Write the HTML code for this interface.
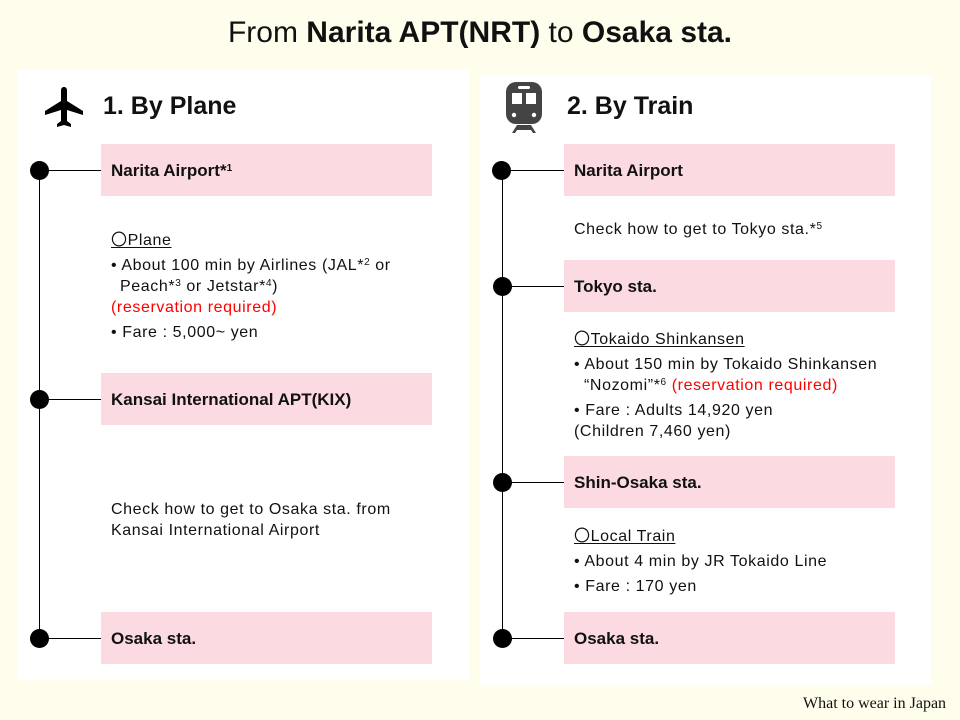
<!DOCTYPE html>
<html><head><meta charset="utf-8"><style>
body{margin:0;width:960px;height:720px;background:#fffdeb;position:relative;overflow:hidden;font-family:"Liberation Sans",sans-serif;color:#111}
.a{position:absolute;white-space:nowrap}
.panel{position:absolute;background:#fff}
.box{position:absolute;background:#fbdbe1;width:331px;height:52px;font-weight:bold;font-size:17px;line-height:54px;padding-left:10px;box-sizing:border-box}
.dot{position:absolute;width:19px;height:19px;border-radius:50%;background:#000}
.h{position:absolute;height:1px;background:#000}
.v{position:absolute;width:1.5px;background:#000}
.t{position:absolute;font-size:16px;line-height:20px;white-space:nowrap;margin-top:2px;letter-spacing:0.6px}
.r{color:#f00}
sup{font-size:10px;vertical-align:5px;line-height:0}
u{text-underline-offset:2px}
</style></head><body>
<div class="a" style="left:0;width:960px;top:14px;text-align:center;font-size:30px;line-height:38px">From <b>Narita APT(NRT)</b> to <b>Osaka sta.</b></div>
<div class="panel" style="left:18px;top:70px;width:451px;height:610px"></div>
<div class="panel" style="left:480px;top:76px;width:451px;height:609px"></div>

<svg class="a" style="left:40px;top:82px" width="48" height="50" viewBox="0 0 24 24"><path d="M21 16v-2l-8-5V3.5C13 2.67 12.330 2 11.5 2S10 2.67 10 3.5V9l-8 5v2l8-2.5V19l-2 1.5V22l3.5-1 3.5 1v-1.5L13 19v-5.5l8 2.5z" fill="#000" transform="translate(0.5,0)"/></svg>
<div class="a" style="left:103px;top:90px;font-size:25px;font-weight:bold;line-height:32px">1. By Plane</div>
<svg class="a" style="left:504px;top:80px" width="40" height="54" viewBox="0 0 40 54"><rect x="2" y="2" width="36" height="42" rx="10" fill="#444"/><rect x="14" y="6" width="12" height="3" rx="1.5" fill="#fff"/><rect x="8" y="13" width="10" height="11" fill="#fff"/><rect x="22" y="13" width="10" height="11" fill="#fff"/><circle cx="10" cy="35" r="2.2" fill="#fff"/><circle cx="30" cy="35" r="2.2" fill="#fff"/><path d="M8 53 L13 45 H27 L32 53 H29 L27 50 H13 L11 53Z" fill="#444"/></svg>
<div class="a" style="left:567px;top:90px;font-size:25px;font-weight:bold;line-height:32px">2. By Train</div>

<div class="v" style="left:38.5px;top:170px;height:469px"></div>
<div class="dot" style="left:30px;top:161px"></div><div class="h" style="left:39px;top:170px;width:62px"></div>
<div class="dot" style="left:30px;top:390px"></div><div class="h" style="left:39px;top:399px;width:62px"></div>
<div class="dot" style="left:30px;top:629px"></div><div class="h" style="left:39px;top:638px;width:62px"></div>
<div class="box" style="left:101px;top:144px">Narita Airport*<sup>1</sup></div>
<div class="box" style="left:101px;top:373px">Kansai International APT(KIX)</div>
<div class="box" style="left:101px;top:612px">Osaka sta.</div>
<div class="t" style="left:111px;top:229px"><u>〇Plane</u></div>
<div class="t" style="left:111px;top:254px">• About 100 min by Airlines (JAL*<sup>2</sup> or</div>
<div class="t" style="left:120px;top:275px">Peach*<sup>3</sup> or Jetstar*<sup>4</sup>)</div>
<div class="t r" style="left:111px;top:296px">(reservation required)</div>
<div class="t" style="left:111px;top:321px">• Fare : 5,000~ yen</div>
<div class="t" style="left:111px;top:498px">Check how to get to Osaka sta. from</div>
<div class="t" style="left:111px;top:519px">Kansai International Airport</div>

<div class="v" style="left:501.5px;top:170px;height:469px"></div>
<div class="dot" style="left:492px;top:161px"></div><div class="h" style="left:502px;top:170px;width:62px"></div>
<div class="dot" style="left:493px;top:277px"></div><div class="h" style="left:502px;top:286px;width:62px"></div>
<div class="dot" style="left:493px;top:473px"></div><div class="h" style="left:502px;top:482px;width:62px"></div>
<div class="dot" style="left:493px;top:629px"></div><div class="h" style="left:502px;top:638px;width:62px"></div>
<div class="box" style="left:564px;top:144px">Narita Airport</div>
<div class="box" style="left:564px;top:260px">Tokyo sta.</div>
<div class="box" style="left:564px;top:456px">Shin-Osaka sta.</div>
<div class="box" style="left:564px;top:612px">Osaka sta.</div>
<div class="t" style="left:574px;top:218px">Check how to get to Tokyo sta.*<sup>5</sup></div>
<div class="t" style="left:574px;top:328px"><u>〇Tokaido Shinkansen</u></div>
<div class="t" style="left:574px;top:353px">• About 150 min by Tokaido Shinkansen</div>
<div class="t" style="left:584px;top:374px">“Nozomi”*<sup>6</sup> <span class="r">(reservation required)</span></div>
<div class="t" style="left:574px;top:399px">• Fare : Adults 14,920 yen</div>
<div class="t" style="left:574px;top:420px">(Children 7,460 yen)</div>
<div class="t" style="left:574px;top:525px"><u>〇Local Train</u></div>
<div class="t" style="left:574px;top:550px">• About 4 min by JR Tokaido Line</div>
<div class="t" style="left:574px;top:575px">• Fare : 170 yen</div>

<div class="a" style="left:803px;top:694px;font-family:'Liberation Serif',serif;font-size:16px;line-height:20px">What to wear in Japan</div>
</body></html>
